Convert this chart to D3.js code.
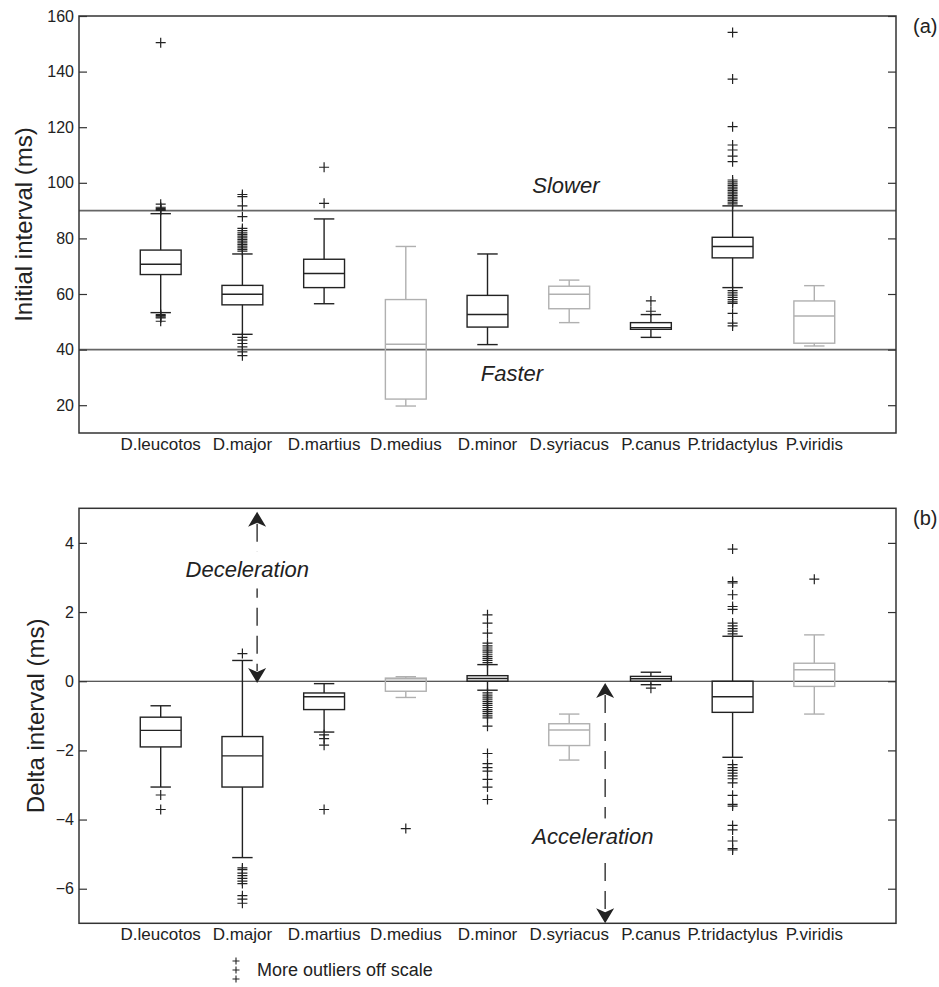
<!DOCTYPE html>
<html>
<head>
<meta charset="utf-8">
<script src="https://cdn.jsdelivr.net/npm/d3@7"></script>
<style>
  body { margin: 0; background: #fff; }
  svg { display: block; font-family: "Liberation Sans", Arial, sans-serif; }
</style>
</head>
<body>
<div id="chart"></div>
<script>
// categories (species)
var categories = ["D.leucotos", "D.major", "D.martius", "D.medius", "D.minor",
                  "D.syriacus", "P.canus", "P.tridactylus", "P.viridis"];
var grayed = ["D.medius", "D.syriacus", "P.viridis"];

// panel (a) initial interval
var initTicks = [20, 40, 60, 80, 100, 120, 140, 160];
var initQ1  = [67, 56.1, 62.3, 22.2, 48.1, 54.7, 47.3, 73, 42.3];
var initMed = [70.7, 59.9, 67.4, 41.9, 52.6, 59.9, 47.9, 77.1, 52.1];
var initQ3  = [75.8, 63.1, 72.5, 58, 59.5, 62.8, 49.7, 80.4, 57.5];
var initLo  = [53.3, 45.5, 56.5, 19.7, 41.8, 49.7, 44.4, 62.3, 41.3];
var initHi  = [88.9, 74.4, 87, 77.1, 74.4, 65, 52.6, 91.7, 63];
var initOut = [
  [150.4, 92.3, 91.2, 90.8, 90.4, 90.1, 52.6, 52.2, 51.8, 51.4, 50.2],
  [95.8, 95, 91.7, 87.8, 83.6, 82.8, 82, 81.4, 80.8, 80.2, 79.6, 79, 78.4, 77.8, 77.2, 76.6, 76, 75.4,
   44.4, 43.4, 42.2, 41, 39.2, 37.8],
  [105.6, 92.6],
  [],
  [],
  [],
  [57.5, 53.8],
  [154.1, 137.3, 120.2, 113.6, 111.8, 109.6, 107.6, 101, 100.3, 99.6, 99, 98.4, 97.8, 97.2, 96.6, 96,
   95.4, 94.8, 94.2, 93.6, 93, 92.4, 61.2, 60.4, 59.6, 58.8, 58, 57.2, 56.6, 53, 49.5, 48.5],
  []
];
var initRefLines = [90, 40];

// panel (b) delta interval
var deltaTicks = [-6, -4, -2, 0, 2, 4];
var deltaQ1  = [-1.9, -3.06, -0.82, -0.29, 0, -1.86, 0, -0.9, -0.15];
var deltaMed = [-1.42, -2.16, -0.45, 0.07, 0.08, -1.41, 0.07, -0.45, 0.33];
var deltaQ3  = [-1.04, -1.6, -0.34, 0.09, 0.16, -1.23, 0.14, 0, 0.52];
var deltaLo  = [-3.06, -5.1, -1.47, -0.47, -0.26, -2.28, -0.1, -2.2, -0.95];
var deltaHi  = [-0.71, 0.6, -0.07, 0.13, 0.48, -0.95, 0.26, 1.3, 1.34];
var deltaOut = [
  [-3.29, -3.71],
  [0.8, -5.4, -5.45, -5.55, -5.62, -5.7, -5.78, -5.85, -6.2, -6.3, -6.42],
  [-1.55, -1.66, -1.85, -3.71],
  [-4.26],
  [1.92, 1.68, 1.39, 1.1, 1.02, 0.96, 0.9, 0.84, 0.78, 0.72, 0.66, 0.6, 0.54,
   -0.34, -0.4, -0.46, -0.52, -0.58, -0.64, -0.7, -0.76, -0.82, -0.88, -0.94, -1.0, -1.06, -1.3,
   -2.09, -2.38, -2.5, -2.6, -2.84, -3.06, -3.42],
  [],
  [-0.2],
  [3.82, 2.88, 2.84, 2.5, 2.16, 2.08, 1.68, 1.6, 1.52, 1.45, 1.37,
   -2.41, -2.5, -2.58, -2.66, -2.74, -2.82, -2.94, -3.3, -3.56, -3.61, -4.17, -4.3, -4.62, -4.84, -4.88],
  [2.95]
];

var W = 939, H = 987;
var left = 79, right = 896;
var dark = "#222", gray = "#b0b0b0";

var svg = d3.select("#chart").append("svg")
    .attr("width", W).attr("height", H);

var x = d3.scaleBand().domain(categories).range([left, right])
    .paddingInner(0).paddingOuter(0.5);
var step = x.step();
var cx = function(c) { return x(c) + x.bandwidth() / 2; };
var xu = d3.scaleLinear().domain([0, 10]).range([left, right]); // for annotations

var cross = "M-5,0H5M0,-5V5";

var draw_panel = function(opt) {
    var y = d3.scaleLinear().domain(opt.domain).range([opt.bottom, opt.top]);
    var g = svg.append("g");

    // reference lines
    opt.refs.forEach(function(v) {
        g.append("line")
            .attr("x1", left).attr("x2", right)
            .attr("y1", y(v)).attr("y2", y(v))
            .style("stroke", opt.refColor).style("stroke-width", opt.refWidth);
    });

    // boxes
    categories.forEach(function(c, i) {
        var col = grayed.indexOf(c) >= 0 ? gray : dark;
        var bx = cx(c), bw = step * 0.5, cw = step * 0.25;
        var bg = g.append("g").style("stroke", col).style("fill", "none").style("stroke-width", 1.4);
        bg.append("line").attr("x1", bx).attr("x2", bx)
            .attr("y1", y(opt.q3[i])).attr("y2", y(opt.hi[i]));
        bg.append("line").attr("x1", bx).attr("x2", bx)
            .attr("y1", y(opt.q1[i])).attr("y2", y(opt.lo[i]));
        bg.append("line").attr("x1", bx - cw / 2).attr("x2", bx + cw / 2)
            .attr("y1", y(opt.hi[i])).attr("y2", y(opt.hi[i]));
        bg.append("line").attr("x1", bx - cw / 2).attr("x2", bx + cw / 2)
            .attr("y1", y(opt.lo[i])).attr("y2", y(opt.lo[i]));
        bg.append("rect").attr("x", bx - bw / 2).attr("width", bw)
            .attr("y", y(opt.q3[i])).attr("height", y(opt.q1[i]) - y(opt.q3[i]));
        bg.append("line").attr("x1", bx - bw / 2).attr("x2", bx + bw / 2)
            .attr("y1", y(opt.med[i])).attr("y2", y(opt.med[i]));
        // outliers are always drawn dark
        g.selectAll(null).data(opt.out[i]).enter().append("path")
            .attr("d", cross)
            .attr("transform", function(v) { return "translate(" + bx + "," + y(v) + ")"; })
            .style("stroke", dark).style("fill", "none").style("stroke-width", 1.2);
    });

    // frame
    g.append("rect")
        .attr("x", left).attr("y", opt.top)
        .attr("width", right - left).attr("height", opt.bottom - opt.top)
        .style("fill", "none").style("stroke", "#333").style("stroke-width", 1.5);

    // axes
    var ay = g.append("g").attr("transform", "translate(" + left + ",0)")
        .call(d3.axisLeft(y).tickValues(opt.ticks).tickSize(-8).tickPadding(5));
    var ay2 = g.append("g").attr("transform", "translate(" + right + ",0)")
        .call(d3.axisRight(y).tickValues(opt.ticks).tickSize(-8).tickFormat(""));
    var ax = g.append("g").attr("transform", "translate(0," + opt.bottom + ")")
        .call(d3.axisBottom(x).tickSize(0).tickPadding(5));
    [ay, ay2, ax].forEach(function(a) {
        a.select(".domain").remove();
        a.selectAll(".tick line").style("stroke", "#333").style("stroke-width", 1.2);
        a.selectAll("text").style("fill", "#222").style("font-family", "'Liberation Sans', Arial, sans-serif");
    });
    ay.selectAll("text").style("font-size", "16px");
    ax.selectAll("text").style("font-size", "17px");

    // y title
    g.append("text")
        .attr("transform", "translate(" + opt.titleX + "," + (opt.top + opt.bottom) / 2 + ") rotate(-90)")
        .attr("text-anchor", "middle")
        .style("font-size", "24px").style("fill", "#222")
        .text(opt.title);

    // panel letter
    g.append("text").attr("x", 913).attr("y", opt.top + 17)
        .style("font-size", "20px").style("fill", "#222")
        .text(opt.letter);

    return {g: g, y: y};
};

var label = function(g, txt, xv, yv, bgBox) {
    var t = g.append("text").attr("x", xu(xv)).attr("y", yv)
        .attr("text-anchor", "middle")
        .style("font-size", "22px").style("font-style", "italic").style("fill", "#222")
        .text(txt);
    if (bgBox) {
        var b = t.node().getBBox();
        g.insert("rect", function() { return t.node(); })
            .attr("x", b.x - 4).attr("y", b.y - 6)
            .attr("width", b.width + 8).attr("height", b.height + 12)
            .style("fill", "#fff");
    }
};

var head = "M0,0L9,15L0,11L-9,15Z";
var dash_arrow = function(g, xv, y1, y2) {
    g.append("line")
        .attr("x1", xu(xv)).attr("x2", xu(xv))
        .attr("y1", y1 + 12).attr("y2", y2 - 12)
        .style("stroke", "#222").style("stroke-width", 1.3)
        .style("stroke-dasharray", "18,10");
    g.append("path").attr("d", head)
        .attr("transform", "translate(" + xu(xv) + "," + y1 + ")")
        .style("fill", "#222");
    g.append("path").attr("d", head)
        .attr("transform", "translate(" + xu(xv) + "," + y2 + ") rotate(180)")
        .style("fill", "#222");
};

// panel (a)
var pa = draw_panel({
    domain: [10, 160], top: 16, bottom: 433, ticks: initTicks,
    q1: initQ1, med: initMed, q3: initQ3, lo: initLo, hi: initHi, out: initOut,
    refs: initRefLines, refColor: "#666", refWidth: 1.6,
    title: "Initial interval (ms)", titleX: 32, letter: "(a)"
});
label(pa.g, "Slower", 5.96, pa.y(96.3), false);
label(pa.g, "Faster", 5.3, pa.y(28.7), false);

// panel (b)
var pb = draw_panel({
    domain: [-7, 5], top: 508.3, bottom: 923.3, ticks: deltaTicks,
    q1: deltaQ1, med: deltaMed, q3: deltaQ3, lo: deltaLo, hi: deltaHi, out: deltaOut,
    refs: [0], refColor: "#222", refWidth: 1.1,
    title: "Delta interval (ms)", titleX: 44, letter: "(b)"
});
dash_arrow(pb.g, 2.18, pb.y(4.9), pb.y(-0.05));
dash_arrow(pb.g, 6.44, pb.y(-0.05), pb.y(-7));
label(pb.g, "Deceleration", 2.06, pb.y(3.0), true);
label(pb.g, "Acceleration", 6.29, pb.y(-4.72), true);

// legend for off-scale outliers
var leg = svg.append("g");
[961, 970, 979].forEach(function(yy) {
    leg.append("path").attr("d", "M-3.5,0H3.5M0,-3.5V3.5")
        .attr("transform", "translate(236," + yy + ")")
        .style("stroke", "#222").style("stroke-width", 1.1);
});
leg.append("text").attr("x", 257).attr("y", 976)
    .style("font-size", "18px").style("fill", "#222")
    .text("More outliers off scale");
</script>
</body>
</html>
